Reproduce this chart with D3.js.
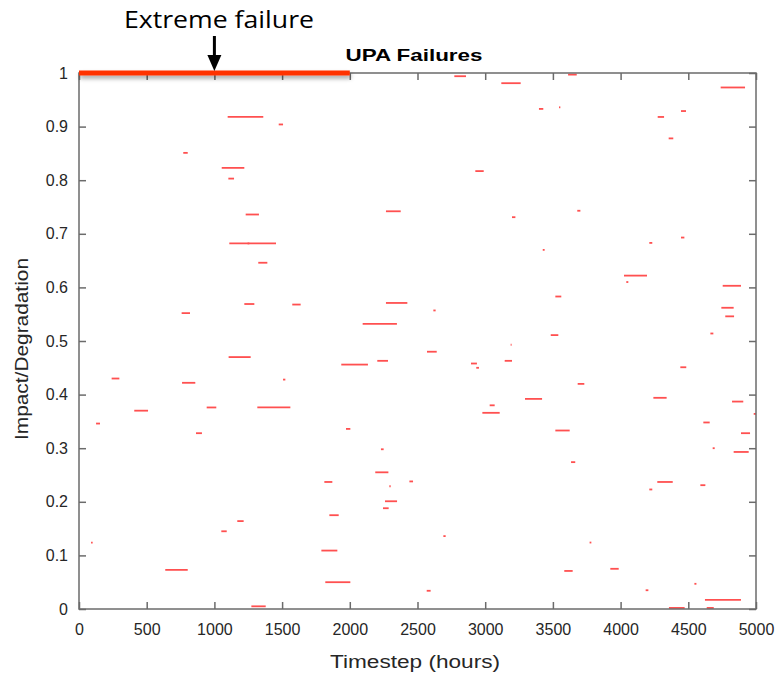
<!DOCTYPE html>
<html>
<head>
<meta charset="utf-8">
<script src="https://cdn.jsdelivr.net/npm/d3@7"></script>
<style>
  html, body { margin: 0; padding: 0; background: #ffffff; }
  svg { display: block; }
</style>
</head>
<body>
<svg id="chart" width="779" height="676"></svg>
<script>
// Failure events: start hour, end hour and impact level of each outage
const segStart = [1098,1475,770,1054,1103,2772,3119,2927,3612,4739,3397,3545,4446,4274,4355,
  1231,1110,1245,1324,1221,1575,758,2267,3198,2267,2617,2095,3680,4446,4212,3425,4025,4042,
  4754,3518,4744,4773,3484,4663,1105,241,761,1507,943,1317,408,126,864,3188,2570,1937,2203,
  2895,2934,3144,3294,3033,2979,1972,2230,2188,4441,3683,4242,4823,4983,3518,4611,4889,4680,
  4835,3634,1169,1051,89,637,1273,1812,2292,2440,2260,2245,1849,2691,1790,1819,2568,4271,
  4212,4589,3771,3584,3924,4185,4545,4623,4357,4636];
const segEnd = [1361,1507,803,1221,1145,2858,3262,2989,3676,4919,3429,3555,4483,4321,4389,
  1329,1455,1258,1391,1295,1637,820,2376,3223,2425,2634,2348,3703,4471,4234,3439,4195,4057,
  4889,3562,4835,4838,3540,4685,1268,298,859,1524,1014,1561,510,155,908,3195,2642,2134,2282,
  2939,2954,3198,3420,3070,3107,2004,2250,2285,4485,3732,4340,4906,5000,3624,4658,4956,4695,
  4946,3665,1216,1091,101,803,1379,1871,2302,2467,2349,2287,1918,2708,1908,2004,2597,4385,
  4234,4626,3784,3646,3986,4205,4560,4889,4473,4688];
const segImpact = [0.918,0.904,0.851,0.823,0.803,0.994,0.981,0.817,0.997,0.973,0.933,0.936,0.929,0.918,0.878,
  0.736,0.682,0.682,0.646,0.569,0.568,0.552,0.742,0.731,0.571,0.557,0.532,0.743,0.693,0.683,0.670,0.622,0.610,
  0.603,0.583,0.562,0.546,0.511,0.514,0.470,0.430,0.422,0.428,0.376,0.376,0.370,0.346,0.328,0.493,0.480,0.456,0.463,
  0.458,0.450,0.463,0.392,0.380,0.366,0.336,0.298,0.255,0.451,0.420,0.394,0.387,0.364,0.333,0.348,0.328,0.300,
  0.293,0.274,0.164,0.145,0.124,0.073,0.005,0.237,0.229,0.238,0.201,0.188,0.175,0.136,0.109,0.050,0.034,0.237,
  0.223,0.231,0.124,0.071,0.075,0.035,0.047,0.017,0.002,0.002];

// The extreme failure event and where its annotation arrow points
const extremeStart = 0;
const extremeEnd = 2000;
const extremeImpact = 1;
const arrowHour = 1000;

const xTicks = [0,500,1000,1500,2000,2500,3000,3500,4000,4500,5000];
const yTicks = [0,0.1,0.2,0.3,0.4,0.5,0.6,0.7,0.8,0.9,1];
const yTickLabels = ["0","0.1","0.2","0.3","0.4","0.5","0.6","0.7","0.8","0.9","1"];

const svg = d3.select("#chart");
const plotL = 79, plotR = 756, plotT = 73, plotB = 609;
const x = d3.scaleLinear().domain([0, 5000]).range([plotL, plotR]);
const y = d3.scaleLinear().domain([0, 1]).range([plotB, plotT]);

const axisColor = "#6b6b6b";
const textColor = "#262626";
const font = "'Liberation Sans', Arial, sans-serif";

const defs = svg.append("defs");
const shadow = defs.append("filter").attr("id", "barShadow")
  .attr("filterUnits", "userSpaceOnUse")
  .attr("x", 60).attr("y", 55).attr("width", 320).attr("height", 40);
shadow.append("feDropShadow").attr("dx", 1).attr("dy", 3).attr("stdDeviation", 2)
  .attr("flood-color", "#000").attr("flood-opacity", 0.35);

// Failure segments
svg.append("g").selectAll("line")
  .data(segImpact.map((v, i) => ({ s: segStart[i], e: segEnd[i], v })))
  .join("line")
  .attr("x1", d => x(d.s))
  .attr("x2", d => x(d.e))
  .attr("y1", d => y(d.v))
  .attr("y2", d => y(d.v))
  .attr("stroke", "#ff5050")
  .attr("stroke-width", 1.8);

// Axes: ticks inside on all four sides
function styleAxis(g) {
  g.select(".domain").remove();
  g.selectAll(".tick line").attr("stroke", axisColor).attr("stroke-width", 1.5);
  g.selectAll(".tick text").attr("fill", textColor).attr("font-family", font).attr("font-size", 16);
}

svg.append("g").attr("transform", `translate(0,${plotB})`)
  .call(d3.axisBottom(x).tickValues(xTicks).tickSizeInner(-7).tickSizeOuter(0).tickPadding(15)
    .tickFormat(d3.format("d")))
  .call(styleAxis);
svg.append("g").attr("transform", `translate(0,${plotT})`)
  .call(d3.axisTop(x).tickValues(xTicks).tickSizeInner(-7).tickSizeOuter(0).tickFormat(""))
  .call(styleAxis);
svg.append("g").attr("transform", `translate(${plotL},0)`)
  .call(d3.axisLeft(y).tickValues(yTicks).tickSizeInner(-7).tickSizeOuter(0).tickPadding(11)
    .tickFormat((d, i) => yTickLabels[i]))
  .call(styleAxis);
svg.append("g").attr("transform", `translate(${plotR},0)`)
  .call(d3.axisRight(y).tickValues(yTicks).tickSizeInner(-7).tickSizeOuter(0).tickFormat(""))
  .call(styleAxis);

svg.append("rect")
  .attr("x", plotL).attr("y", plotT)
  .attr("width", plotR - plotL).attr("height", plotB - plotT)
  .attr("fill", "none").attr("stroke", axisColor).attr("stroke-width", 1.5);

// Extreme failure bar along the top edge
const barH = 5;
svg.append("rect")
  .attr("x", x(extremeStart))
  .attr("y", y(extremeImpact) - barH / 2)
  .attr("width", x(extremeEnd) - x(extremeStart))
  .attr("height", barH)
  .attr("fill", "#ff3300")
  .attr("filter", "url(#barShadow)");

// Title
svg.append("text")
  .attr("x", 414).attr("y", 61)
  .attr("text-anchor", "middle")
  .attr("font-family", font).attr("font-weight", "bold").attr("font-size", 17)
  .attr("textLength", 137).attr("lengthAdjust", "spacingAndGlyphs")
  .attr("fill", "#000")
  .text("UPA Failures");

// Axis titles
svg.append("text")
  .attr("x", 415).attr("y", 668)
  .attr("text-anchor", "middle")
  .attr("font-family", font).attr("font-size", 18)
  .attr("textLength", 170).attr("lengthAdjust", "spacingAndGlyphs")
  .attr("fill", textColor)
  .text("Timestep (hours)");

svg.append("text")
  .attr("transform", "translate(28,349) rotate(-90)")
  .attr("text-anchor", "middle")
  .attr("font-family", font).attr("font-size", 18)
  .attr("textLength", 182).attr("lengthAdjust", "spacingAndGlyphs")
  .attr("fill", textColor)
  .text("Impact/Degradation");

// Annotation: label and arrow pointing at the extreme failure
svg.append("text")
  .attr("x", 219).attr("y", 28)
  .attr("text-anchor", "middle")
  .attr("font-family", "'Open Sans', 'Liberation Sans', sans-serif").attr("font-size", 24)
  .attr("textLength", 190).attr("lengthAdjust", "spacingAndGlyphs")
  .attr("fill", "#000")
  .text("Extreme failure");

const ax = x(arrowHour);
svg.append("line")
  .attr("x1", ax).attr("x2", ax).attr("y1", 36).attr("y2", 58)
  .attr("stroke", "#000").attr("stroke-width", 3);
svg.append("path")
  .attr("d", `M${ax - 7},55 L${ax + 7},55 L${ax},71 Z`)
  .attr("fill", "#000");
</script>
</body>
</html>
